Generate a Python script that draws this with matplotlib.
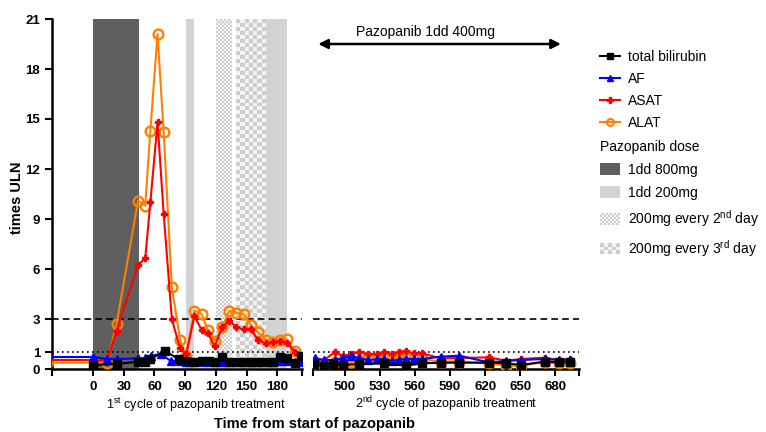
import numpy as np
import matplotlib.pyplot as plt
from matplotlib.lines import Line2D
from matplotlib.patches import Patch, Rectangle
from matplotlib.colors import ListedColormap
from matplotlib.legend_handler import HandlerBase

plt.rcParams['font.family'] = ['Liberation Sans', 'DejaVu Sans']
plt.rcParams['mathtext.fontset'] = 'custom'
plt.rcParams['mathtext.rm'] = 'Liberation Sans'

# ===================== data =====================
# 1st cycle (days from start)
days_c1 = [-45, 14, 23, 44, 51, 56, 63, 69, 77, 85, 91, 99, 106, 112, 119,
           126, 133, 140, 147, 154, 161, 169, 176, 183, 189, 197]
alat_c1 = [0.38, 0.38, 2.7, 10.1, 9.8, 14.3, 20.1, 14.2, 4.9, 1.74, 0.78, 3.5, 3.3,
           2.34, 1.7, 2.5, 3.48, 3.38, 3.28, 2.64, 2.2, 1.74, 1.64, 1.74, 1.78, 1.08]
asat_c1 = [0.54, 0.54, 2.3, 6.24, 6.64, 10.0, 14.8, 9.3, 2.98, 1.24, 0.9, 3.2, 2.34,
           2.14, 1.38, 2.5, 2.9, 2.5, 2.38, 2.42, 1.74, 1.54, 1.6, 1.7, 1.58, 1.04]
af_days_c1 = [-45, 0, 14, 23, 44, 51, 57, 66, 76, 85, 91, 99, 106, 113, 119, 126,
              133, 140, 147, 154, 161, 169, 176, 183, 189, 197, 203]
af_c1 = [0.72, 0.72, 0.6, 0.6, 0.64, 0.64, 0.8, 0.9, 0.48, 0.5, 0.45, 0.4, 0.45,
         0.45, 0.4, 0.45, 0.45, 0.45, 0.45, 0.45, 0.45, 0.45, 0.45, 0.5, 0.5, 0.45, 0.4]
bili_days_c1 = [0, 23, 44, 51, 56, 70, 84, 91, 99, 106, 113, 119, 126, 133, 140,
                147, 154, 161, 169, 176, 183, 189, 197, 203]
bili_c1 = [0.24, 0.3, 0.44, 0.44, 0.58, 1.1, 0.58, 0.5, 0.4, 0.5, 0.5, 0.4, 0.74,
           0.42, 0.45, 0.45, 0.42, 0.42, 0.45, 0.45, 0.74, 0.68, 0.34, 0.78]

# 2nd cycle
days_c2 = [474, 482, 491, 498, 505, 512, 520, 527, 533, 540, 546, 552, 559, 566,
           582, 598, 623, 638, 651, 671, 683, 693]
alat_c2 = [0.38, 0.2, 0.44, 0.28, 0.4, 0.54, 0.74, 0.68, 0.64, 0.64, 0.74, 0.68,
           0.6, 0.6, 0.44, 0.44, 0.34, 0.2, 0.2, 0.44, 0.34, 0.34]
asat_c2 = [0.6, 0.54, 1.0, 0.8, 0.88, 1.04, 0.88, 0.9, 1.0, 0.9, 1.04, 1.08, 0.94,
           0.94, 0.64, 0.66, 0.7, 0.5, 0.6, 0.68, 0.54, 0.62]
af_c2 = [0.64, 0.54, 0.54, 0.64, 0.78, 0.64, 0.54, 0.58, 0.6, 0.48, 0.55, 0.6,
         0.6, 0.6, 0.74, 0.8, 0.4, 0.48, 0.54, 0.6, 0.54, 0.54]
bili_days_c2 = [473, 482, 490, 498, 512, 533, 552, 566, 582, 598, 623, 638, 651,
                671, 683, 693]
bili_c2 = [0.28, 0.2, 0.28, 0.24, 0.3, 0.34, 0.2, 0.34, 0.38, 0.38, 0.38, 0.34,
           0.24, 0.44, 0.4, 0.4]

# pazopanib dose periods (days)
dose_800 = [(0, 45)]
dose_200 = [(91, 99), (169, 189)]
dose_q2d = [(120, 135)]
dose_q3d = [(140, 169)]

y_ticks = [0, 1, 3, 6, 9, 12, 15, 18, 21]
x_ticks_c1 = [0, 30, 60, 90, 120, 150, 180]
x_ticks_c2 = [500, 530, 560, 590, 620, 650, 680]

C_DARK = '#5f5f5f'
C_LIGHT = '#d3d3d3'
CHK = ('#cdcdcd', '#f3f3f3')


# ===================== helpers =====================
def add_checker(ax, x0, x1, cell_px):
    """checkerboard fill between x0 and x1 with cells of cell_px pixels"""
    p0 = ax.transData.transform((x0, 0))
    p1 = ax.transData.transform((x1, 21))
    nx = max(1, int(round((p1[0] - p0[0]) / cell_px)))
    ny = int(round((p1[1] - p0[1]) / cell_px))
    grid = np.add.outer(np.arange(ny), np.arange(nx)) % 2
    ax.imshow(grid, extent=(x0, x1, 0, 21), aspect='auto', cmap=ListedColormap(CHK),
              interpolation='nearest', zorder=0)


class CheckerHandler(HandlerBase):
    """legend box filled with a checkerboard"""
    def __init__(self, cell):
        super().__init__()
        self.cell = cell

    def create_artists(self, legend, orig_handle, xdescent, ydescent, width, height,
                       fontsize, trans):
        arts = []
        nx = max(1, int(round(width / self.cell)))
        ny = max(1, int(round(height / self.cell)))
        cw, ch = width / nx, height / ny
        for i in range(nx):
            for j in range(ny):
                r = Rectangle((-xdescent + i * cw, -ydescent + j * ch), cw, ch,
                              facecolor=CHK[(i + j) % 2], edgecolor='none',
                              transform=trans)
                arts.append(r)
        return arts


def plot_series(ax, days, alat, asat, af_days, af, bili_days, bili):
    ax.plot(days, alat, color='#ff8000', lw=1.5, marker='o', ms=7, mfc='none',
            mew=1.7, zorder=3)
    ax.plot(days, asat, color='#ff0000', lw=1.5, marker='P', ms=5, zorder=4)
    ax.plot(af_days, af, color='#0000ff', lw=1.5, marker='^', ms=5.5, zorder=5)
    ax.plot(bili_days, bili, color='black', lw=1.5, marker='s', ms=5.5, zorder=6)


def style_axis(ax, xlim, xticks):
    ax.set_xlim(*xlim)
    ax.set_ylim(0, 21)
    ax.set_xticks(xticks)
    ax.set_xticks([xlim[0], xlim[1]], minor=True)
    ax.tick_params(axis='x', which='both', length=5, width=1.5, direction='out')
    ax.tick_params(labelsize=9.5)
    for lab in ax.get_xticklabels() + ax.get_yticklabels():
        lab.set_fontweight('bold')
    ax.spines['top'].set_visible(False)
    ax.spines['right'].set_visible(False)
    ax.spines['bottom'].set_linewidth(1.8)
    ax.spines['left'].set_linewidth(1.8)
    ax.axhline(3, color='black', ls=(0, (4, 2.5)), lw=1.2, zorder=2)
    ax.axhline(1, color='black', ls=(0, (1, 2)), lw=1.2, zorder=2)


# ===================== main =====================
def main():
    fig = plt.figure(figsize=(7.66, 4.32), dpi=100)
    ax1 = fig.add_axes([52 / 766, 1 - 369 / 432, 250 / 766, 350 / 432])
    ax2 = fig.add_axes([313 / 766, 1 - 369 / 432, 266 / 766, 350 / 432])

    xlim1 = (-40, 204)
    xlim2 = (472.5, 700.5)
    ax1.set_xlim(*xlim1)
    ax1.set_ylim(0, 21)
    ax2.set_xlim(*xlim2)
    ax2.set_ylim(0, 21)

    # dose shading
    for a, b in dose_800:
        ax1.axvspan(a, b, color=C_DARK, lw=0, zorder=0)
    for a, b in dose_200:
        ax1.axvspan(a, b, color=C_LIGHT, lw=0, zorder=0)
    for a, b in dose_q2d:
        add_checker(ax1, a, b, 2)
    for a, b in dose_q3d:
        add_checker(ax1, a, b, 4)

    plot_series(ax1, days_c1, alat_c1, asat_c1, af_days_c1, af_c1, bili_days_c1, bili_c1)
    plot_series(ax2, days_c2, alat_c2, asat_c2, days_c2, af_c2, bili_days_c2, bili_c2)

    style_axis(ax1, xlim1, x_ticks_c1)
    ax1.set_yticks(y_ticks)
    ax1.tick_params(axis='y', length=5, width=1.5)
    for lab in ax1.get_yticklabels():
        lab.set_fontweight('bold')

    style_axis(ax2, xlim2, x_ticks_c2)
    ax2.spines['left'].set_visible(False)
    ax2.set_yticks([])

    # 400mg arrow
    ax2.annotate('', xy=(477, 19.5), xytext=(685, 19.5),
                 arrowprops=dict(arrowstyle='<|-|>', color='black', lw=1.8,
                                 mutation_scale=14, shrinkA=0, shrinkB=0))
    ax2.text(569, 20.2, 'Pazopanib 1dd 400mg', ha='center', va='center', fontsize=10)

    # axis texts
    ax1.text((196 - 52) / 250, -0.103, r'1$^{\rm st}$ cycle of pazopanib treatment',
             transform=ax1.transAxes, ha='center', va='center', fontsize=9)
    ax2.text(0.5, -0.100, r'2$^{\rm nd}$ cycle of pazopanib treatment',
             transform=ax2.transAxes, ha='center', va='center', fontsize=9)
    fig.text(315 / 766, 1 - 424 / 432, 'Time from start of pazopanib', ha='center',
             va='center', fontsize=10.5, fontweight='bold')
    fig.text(17 / 766, 1 - 198 / 432, 'times ULN', ha='center', va='center',
             rotation=90, fontsize=10.5, fontweight='bold')

    # legends
    line_handles = [
        Line2D([], [], color='black', lw=1.5, marker='s', ms=4),
        Line2D([], [], color='#0000ff', lw=1.5, marker='^', ms=4),
        Line2D([], [], color='#ff0000', lw=1.5, marker='P', ms=4),
        Line2D([], [], color='#ff8000', lw=1.5, marker='o', ms=5, mfc='none', mew=1.5),
    ]
    line_labels = ['total bilirubin', 'AF', 'ASAT', 'ALAT']
    fig.legend(line_handles, line_labels, loc='upper left',
               bbox_to_anchor=(600 / 766, 1 - 50 / 432), frameon=False, fontsize=10,
               handlelength=1.45, handletextpad=0.58, labelspacing=0.58,
               borderpad=0, borderaxespad=0)

    fig.text(600 / 766, 1 - 147 / 432, 'Pazopanib dose', ha='left', va='center',
             fontsize=10)

    p800 = Patch(facecolor=C_DARK)
    p200 = Patch(facecolor=C_LIGHT)
    pq2 = Patch(facecolor=CHK[0])
    pq3 = Patch(facecolor=CHK[1])
    dose_labels = ['1dd 800mg', '1dd 200mg', r'200mg every 2$^{\rm nd}$ day',
                   r'200mg every 3$^{\rm rd}$ day']
    fig.legend([p800, p200, pq2, pq3], dose_labels, loc='upper left',
               bbox_to_anchor=(600 / 766, 1 - 163 / 432), frameon=False, fontsize=10,
               handlelength=1.45, handleheight=0.9, handletextpad=0.58,
               labelspacing=0.62, borderpad=0, borderaxespad=0,
               handler_map={pq2: CheckerHandler(1.5), pq3: CheckerHandler(3)})

    fig.savefig('out.png', dpi=100)


if __name__ == "__main__":
    main()
